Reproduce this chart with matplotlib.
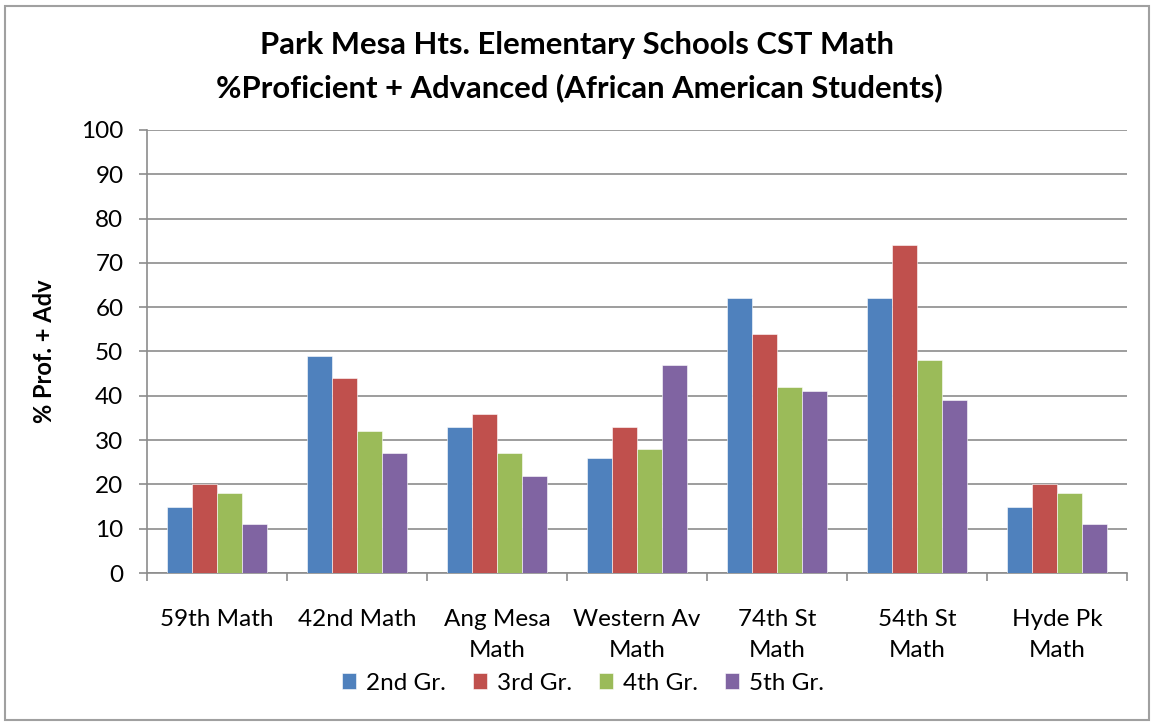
import matplotlib
matplotlib.use("Agg")
import matplotlib.pyplot as plt
import numpy as np
from matplotlib.patches import Rectangle

plt.rcParams['font.family'] = ['Lato', 'DejaVu Sans']

schools = ["59th Math", "42nd Math", "Ang Mesa\nMath", "Western Av\nMath",
           "74th St\nMath", "54th St\nMath", "Hyde Pk\nMath"]
grades = ["2nd Gr.", "3rd Gr.", "4th Gr.", "5th Gr."]
gr2 = [15, 49, 33, 26, 62, 62, 15]
gr3 = [20, 44, 36, 33, 54, 74, 20]
gr4 = [18, 32, 27, 28, 42, 48, 18]
gr5 = [11, 27, 22, 47, 41, 39, 11]
series = [gr2, gr3, gr4, gr5]
colors = ["#4F81BD", "#C0504D", "#9BBB59", "#8064A2"]
yticks = list(range(0, 101, 10))

W, H = 1154, 725
fig = plt.figure(figsize=(W / 100, H / 100), dpi=100)
ax = fig.add_axes([147 / W, (H - 573) / H, 980 / W, 443 / H])

x = np.arange(len(schools))
bw = 0.18
for i, (vals, c, lab) in enumerate(zip(series, colors, grades)):
    ax.bar(x + (i - 1.5) * bw, vals, bw, color=c, label=lab, zorder=3,
           edgecolor='white', linewidth=0.4)

ax.set_xlim(-0.5, len(schools) - 0.5)
ax.set_ylim(0, 100)
ax.set_yticks(yticks)
ax.yaxis.grid(True, color='#8c8c8c', linewidth=1.2, zorder=0)
ax.set_axisbelow(True)
for s in ['top', 'right']:
    ax.spines[s].set_visible(False)
for s in ['left', 'bottom']:
    ax.spines[s].set_color('#8c8c8c')
    ax.spines[s].set_linewidth(1.2)

ax.set_xticks(x)
ax.set_xticklabels(schools, fontsize=17.5, linespacing=1.6, va='top')
ax.tick_params(axis='x', length=0, pad=26)
ax.set_xticks(np.arange(-0.5, len(schools), 1), minor=True)
ax.tick_params(axis='x', which='minor', length=6, color='#8c8c8c', width=1.2)
ax.tick_params(axis='y', length=6, color='#8c8c8c', width=1.2, labelsize=17.5, pad=11)

ax.set_ylabel("% Prof. + Adv", fontsize=17, fontweight='bold', labelpad=18)

fig.text(577 / W, 1 - 45 / H, "Park Mesa Hts. Elementary Schools CST Math",
         ha='center', va='center', fontsize=22.3, fontweight='bold')
fig.text(579 / W, 1 - 88 / H, "%Proficient + Advanced (African American Students)",
         ha='center', va='center', fontsize=22.3, fontweight='bold')

fig.legend(loc='center', bbox_to_anchor=(583 / W, 1 - 683 / H), ncol=4,
           frameon=False, fontsize=17.5, handlelength=0.6, handleheight=0.6,
           handletextpad=0.4, columnspacing=1.1, borderaxespad=0)

fig.patches.append(Rectangle((5 / W, 5 / H), 1144 / W, 714 / H,
                             transform=fig.transFigure, fill=False,
                             edgecolor='#a0a0a0', linewidth=1.5))

fig.savefig("out.png", dpi=100)
